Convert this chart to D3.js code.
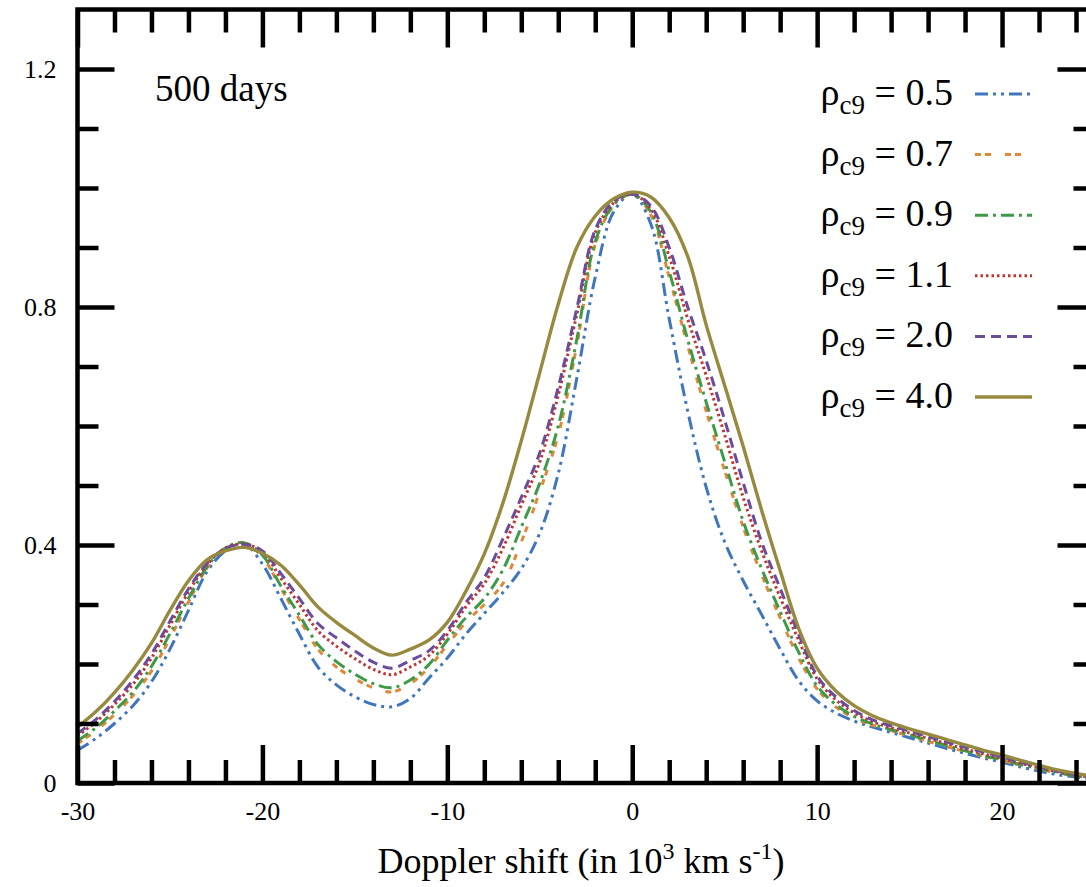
<!DOCTYPE html>
<html>
<head>
<meta charset="utf-8">
<script src="https://cdn.jsdelivr.net/npm/d3@7"></script>
<style>
  body { margin: 0; background: #fff; }
  svg { display: block; font-family: "Liberation Serif", "DejaVu Serif", serif; }
</style>
</head>
<body>
<svg id="chart" width="1086" height="887"></svg>
<script>
// doppler shift grid (10^3 km/s), one value per unit
const xs = d3.range(-30, 26)

// profiles, one per central density
const rho05 = [.055, .075, .1, .13, .17, .225, .29, .355, .39, .402, .368, .31, .25, .195, .165, .145, .132, .128, .142, .176,
  .21, .25, .285, .32, .36, .42, .52, .68, .85, .96, .99, .94, .78, .625, .497, .405, .34, .283, .225, .172,
  .138, .118, .104, .094, .085, .076, .067, .058, .05, .042, .035, .027, .02, .014, .01, .007]
const rho07 = [.066, .088, .115, .147, .188, .243, .304, .361, .394, .403, .38, .327, .275, .225, .195, .175, .16, .153, .167, .194,
  .232, .27, .30, .335, .405, .49, .585, .735, .905, .97, .99, .955, .85, .735, .625, .525, .43, .35, .278, .21,
  .158, .128, .109, .097, .088, .079, .07, .061, .053, .045, .038, .03, .023, .017, .012, .008]
const rho09 = [.071, .093, .121, .153, .196, .251, .31, .363, .395, .404, .383, .331, .282, .233, .204, .183, .167, .16, .173, .199,
  .24, .278, .31, .358, .43, .504, .6, .745, .91, .972, .99, .96, .86, .745, .64, .54, .44, .36, .288, .22,
  .163, .132, .112, .099, .09, .081, .072, .063, .054, .046, .039, .031, .024, .018, .012, .008]
const rho11 = [.079, .103, .132, .166, .21, .265, .321, .367, .395, .402, .388, .344, .3, .256, .23, .209, .191, .182, .195, .214,
  .25, .296, .335, .394, .467, .54, .652, .787, .925, .975, .99, .965, .885, .78, .685, .585, .48, .39, .312, .24,
  .175, .14, .118, .103, .093, .084, .075, .066, .057, .049, .041, .033, .026, .019, .013, .009]
const rho20 = [.083, .107, .137, .173, .217, .272, .326, .369, .394, .401, .39, .352, .31, .268, .244, .222, .203, .193, .206, .222,
  .256, .303, .345, .41, .48, .555, .665, .797, .93, .978, .99, .97, .9, .8, .71, .61, .505, .405, .327, .25,
  .18, .145, .122, .106, .096, .087, .078, .069, .06, .052, .044, .035, .027, .02, .014, .01]
const rho40 = [.094, .12, .152, .19, .235, .29, .34, .375, .39, .396, .386, .366, .333, .296, .27, .248, .227, .215, .225, .24,
  .27, .322, .385, .47, .575, .69, .805, .9, .953, .982, .993, .985, .95, .885, .77, .668, .566, .458, .357, .26,
  .193, .155, .13, .113, .101, .091, .082, .073, .064, .055, .047, .038, .03, .022, .016, .011]

const seriesNames = ['0.5', '0.7', '0.9', '1.1', '2.0', '4.0']
const seriesValues = [rho05, rho07, rho09, rho11, rho20, rho40]
const seriesColors = ['#3f76bd', '#e0873a', '#3d9a47', '#c0352f', '#6a4b9c', '#978a3f']
const seriesDash = ['13,5,3,5,3,5', '6,4,6,14', '13,5,3,5', '2.5,3', '10,6', null]

const xMajor = [-30, -20, -10, 0, 10, 20]
const xMinor = d3.range(-28, 25, 2).filter(v => v % 10 !== 0)
const yMajor = [0, 0.4, 0.8, 1.2]
const yMinor = [0.1, 0.2, 0.3, 0.5, 0.6, 0.7, 0.9, 1.0, 1.1]

const svg = d3.select('#chart')
const plotLeft = 77.5, plotRight = 1094.5, plotTop = 9.5, plotBottom = 783

const x = d3.scaleLinear().domain([-30, 25]).range([plotLeft, plotRight])
const y = d3.scaleLinear().domain([0, 1.3]).range([plotBottom, plotTop])

svg.append('defs').append('clipPath').attr('id', 'plot')
    .append('rect')
    .attr('x', plotLeft).attr('y', plotTop)
    .attr('width', plotRight - plotLeft).attr('height', plotBottom - plotTop)

// curves
const line = d3.line()
    .x(d => x(d[0]))
    .y(d => y(d[1]))
    .curve(d3.curveCatmullRom.alpha(0.5))

const curves = svg.append('g').attr('clip-path', 'url(#plot)')
seriesValues.forEach((vals, i) => {
    curves.append('path')
        .datum(xs.map((v, j) => [v, vals[j]]))
        .attr('fill', 'none')
        .attr('stroke', seriesColors[i])
        .attr('stroke-width', i === 5 ? 3.4 : 3)
        .attr('stroke-dasharray', seriesDash[i])
        .attr('d', line)
})

// axes, ticks pointing inwards
function styleAxis(g) {
    g.select('.domain').remove()
    g.selectAll('.tick line').attr('stroke', '#000').attr('stroke-width', 4.5)
    g.selectAll('.tick text').attr('fill', '#000').attr('font-size', 26)
        .attr('font-family', '"Liberation Serif", serif')
}

svg.append('g').attr('transform', `translate(0,${plotBottom})`)
    .call(d3.axisBottom(x).tickValues(xMajor).tickSizeInner(-38).tickSizeOuter(0).tickPadding(19)
        .tickFormat(d => String(d)))
    .call(styleAxis)
svg.append('g').attr('transform', `translate(0,${plotBottom})`)
    .call(d3.axisBottom(x).tickValues(xMinor).tickSize(-23).tickFormat(''))
    .call(styleAxis)
svg.append('g').attr('transform', `translate(0,${plotTop})`)
    .call(d3.axisTop(x).tickValues(xMajor).tickSize(-38).tickFormat(''))
    .call(styleAxis)
svg.append('g').attr('transform', `translate(0,${plotTop})`)
    .call(d3.axisTop(x).tickValues(xMinor).tickSize(-23).tickFormat(''))
    .call(styleAxis)

svg.append('g').attr('transform', `translate(${plotLeft},0)`)
    .call(d3.axisLeft(y).tickValues(yMajor).tickSizeInner(-37).tickSizeOuter(0).tickPadding(21)
        .tickFormat(d => d === 0 ? '0' : d3.format('.1f')(d)))
    .call(styleAxis)
svg.append('g').attr('transform', `translate(${plotLeft},0)`)
    .call(d3.axisLeft(y).tickValues(yMinor).tickSize(-21).tickFormat(''))
    .call(styleAxis)
svg.append('g').attr('transform', `translate(${plotRight},0)`)
    .call(d3.axisRight(y).tickValues(yMajor).tickSize(-37).tickFormat(''))
    .call(styleAxis)
svg.append('g').attr('transform', `translate(${plotRight},0)`)
    .call(d3.axisRight(y).tickValues(yMinor).tickSize(-21).tickFormat(''))
    .call(styleAxis)

svg.append('rect')
    .attr('x', plotLeft).attr('y', plotTop)
    .attr('width', plotRight - plotLeft).attr('height', plotBottom - plotTop)
    .attr('fill', 'none').attr('stroke', '#000').attr('stroke-width', 4.5)

// label inside the plot
svg.append('text')
    .attr('x', 155).attr('y', 101)
    .attr('font-size', 37)
    .text('500 days')

// x axis title
const xt = svg.append('text')
    .attr('x', 581).attr('y', 873)
    .attr('text-anchor', 'middle')
    .attr('font-size', 36)
xt.append('tspan').text('Doppler shift (in 10')
xt.append('tspan').attr('font-size', 24).attr('dy', -14).text('3')
xt.append('tspan').attr('dy', 14).text(' km s')
xt.append('tspan').attr('font-size', 24).attr('dy', -14).text('-1')
xt.append('tspan').attr('dy', 14).text(')')

// legend
const legend = svg.append('g')
seriesNames.forEach((name, i) => {
    const row = legend.append('g').attr('transform', `translate(0,${94 + i * 60.6})`)
    const t = row.append('text')
        .attr('x', 953).attr('y', 11)
        .attr('text-anchor', 'end')
        .attr('font-size', 38)
    t.append('tspan').text('ρ')
    t.append('tspan').attr('font-size', 27).attr('dy', 9).text('c9')
    t.append('tspan').attr('dy', -9).text(' = ' + name)
    row.append('line')
        .attr('x1', 975).attr('x2', 1032)
        .attr('y1', 0).attr('y2', 0)
        .attr('stroke', seriesColors[i])
        .attr('stroke-width', i === 5 ? 3.4 : 3)
        .attr('stroke-dasharray', seriesDash[i])
})
</script>
</body>
</html>
